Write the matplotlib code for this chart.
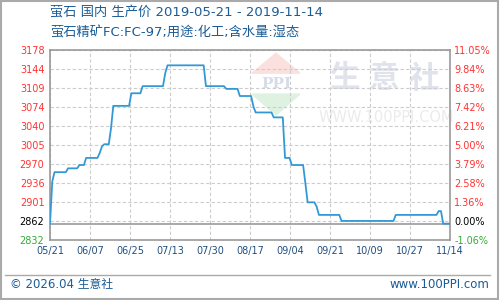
import numpy as np
import matplotlib.pyplot as plt
from matplotlib.patches import Polygon, Rectangle

plt.rcParams['font.family'] = ['DejaVu Sans', 'Noto Sans CJK SC']

# price series: day offset from 2019-05-21, price (yuan/t)
days = [0, 1, 2, 7, 8, 12, 13, 15, 16, 21, 22, 23, 24, 26, 27, 28, 35, 36, 40, 41,
        50, 51, 52, 68, 69, 77, 78, 83, 84, 89, 90, 91, 98, 99, 103, 104, 106, 107,
        112, 113, 114, 117, 118, 119, 128, 129, 152, 153, 171, 172, 173, 174, 177]
prices = [2862, 2939, 2956, 2956, 2963, 2963, 2969, 2969, 2982, 2982, 2991, 3003, 3007,
          3007, 3036, 3077, 3077, 3100, 3100, 3113, 3113, 3137, 3151, 3151, 3113, 3113,
          3108, 3108, 3095, 3095, 3076, 3065, 3065, 3056, 3056, 2982, 2982, 2969, 2969,
          2936, 2901, 2901, 2893, 2878, 2878, 2867, 2867, 2878, 2878, 2885, 2885, 2862, 2862]

base = 2862
x_labels = ['05/21', '06/07', '06/25', '07/13', '07/30', '08/17', '09/04', '09/21',
            '10/09', '10/27', '11/14']
y_labels = ['2832', '2862', '2901', '2936', '2970', '3005', '3040', '3074', '3109',
            '3144', '3178']
pct_labels = ['-1.06%', '0.00%', '1.36%', '2.58%', '3.79%', '5.00%', '6.21%', '7.42%',
              '8.63%', '9.84%', '11.05%']

fig = plt.figure(figsize=(5, 3), dpi=100)
ax = fig.add_axes([0.1, 0.199, 0.8, 0.633])

ymin, ymax = base * 0.9894, base * 1.1105
ax.set_xlim(0, 177)
ax.set_ylim(ymin, ymax)

# watermark (logo + site name)
for i, ch in enumerate('生意社'):
    ax.text(0.735 + i * 0.1, 0.85, ch, transform=ax.transAxes, fontsize=22, color='#e0e3ec',
            ha='center', va='center', fontweight='bold', zorder=0)
ax.text(0.84, 0.645, 'WWW.100PPI.COM', transform=ax.transAxes, fontsize=10.5,
        color='#ebebeb', ha='center', va='center', zorder=0)
ax.add_patch(Polygon([[0.505, 0.88], [0.565, 0.985], [0.625, 0.88]], closed=True,
                     transform=ax.transAxes, color='#fbe1de', zorder=0))
ax.add_patch(Polygon([[0.505, 0.77], [0.565, 0.66], [0.625, 0.77]], closed=True,
                     transform=ax.transAxes, color='#dff2e2', zorder=0))
ax.text(0.565, 0.825, 'PPI', transform=ax.transAxes, fontsize=11, color='#d5dbe8',
        ha='center', va='center', fontweight='bold', family='DejaVu Serif', zorder=0)

ax.plot(days, prices, color='#3399d6', lw=1.3, zorder=3)
ax.axhline(base, color='#999999', lw=1.2, zorder=2)

ax.set_xticks(np.linspace(0, 177, 11))
ax.set_xticklabels(x_labels, fontsize=7, color='#1f4f80')
ax.set_yticks(np.linspace(ymin, ymax, 11))
ax.set_yticklabels(y_labels, fontsize=7)
ax.tick_params(length=0, pad=4)
ax.grid(True, color='#cccccc', ls=(0, (3, 2)), lw=0.8)
for sp in ax.spines.values():
    sp.set_color('#999999')
    sp.set_linewidth(1.2)

ycols = ['#33aa33', '#000000'] + ['#ff3333'] * 9
for t, c in zip(ax.get_yticklabels(), ycols):
    t.set_color(c)

ax2 = ax.twinx()
ax2.set_ylim(ymin, ymax)
ax2.set_yticks(np.linspace(ymin, ymax, 11))
ax2.set_yticklabels(pct_labels, fontsize=7)
ax2.tick_params(length=0, pad=3)
for sp in ax2.spines.values():
    sp.set_visible(False)
for t, c in zip(ax2.get_yticklabels(), ycols):
    t.set_color(c)

tc = '#1a5c96'
fig.text(0.1, 0.955, '萤石 国内 生产价 2019-05-21 - 2019-11-14', fontsize=9.5, color=tc,
         va='center')
fig.text(0.1, 0.89, '萤石精矿FC:FC-97;用途:化工;含水量:湿态', fontsize=9.5, color=tc,
         va='center')
fig.text(0.02, 0.052, '© 2026.04 生意社', fontsize=8.5, color=tc, va='center')
fig.text(0.978, 0.052, 'www.100PPI.com', fontsize=8.5, color=tc, va='center', ha='right')

fig.add_artist(plt.Line2D([0.01, 0.98], [0.083, 0.083], color='#aaaaaa', lw=1,
                          transform=fig.transFigure))
fig.add_artist(Rectangle((0.001, 0.002), 0.995, 0.995, fill=False, ec='#aaaaaa', lw=1.5,
                         transform=fig.transFigure))

fig.savefig('out.png', dpi=100)
